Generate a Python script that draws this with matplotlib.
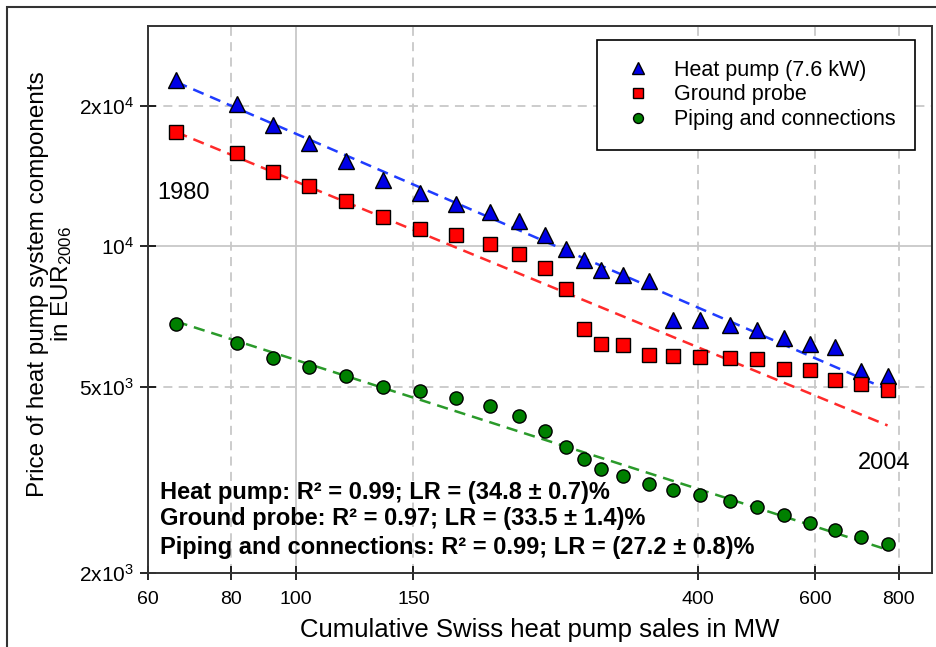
import numpy as np
import matplotlib
matplotlib.use("Agg")
import matplotlib.pyplot as plt
from matplotlib.patches import Rectangle

plt.rcParams['font.family'] = ['Liberation Sans', 'DejaVu Sans']
plt.rcParams['mathtext.fontset'] = 'custom'
plt.rcParams['mathtext.rm'] = 'Liberation Sans'
plt.rcParams['mathtext.it'] = 'Liberation Sans:italic'
plt.rcParams['mathtext.bf'] = 'Liberation Sans:bold'

# cumulative sales (MW), 1980 ... 2004
sales = [66.2, 81.6, 92.4, 104.7, 118.7, 135.2, 153.4, 173.5, 195.4, 216.2,
         235.9, 254.0, 269.8, 286.9, 309.6, 338.7, 367.5, 403.8, 447.5, 490.7,
         538.2, 589.7, 643.0, 703.3, 770.3]

heat_pump = [22680, 20140, 18160, 16640, 15210, 13840, 13000, 12300, 11820, 11330,
             10580, 9890, 9360, 8906, 8667, 8415, 6961, 6944, 6775, 6610,
             6364, 6185, 6089, 5407, 5267]
ground_probe = [17570, 15840, 14430, 13440, 12500, 11550, 10910, 10560, 10130, 9647,
                8972, 8100, 6665, 6189, 6137, 5862, 5822, 5794, 5776, 5748,
                5471, 5426, 5164, 5063, 4932]
piping = [6831, 6208, 5776, 5514, 5267, 4996, 4892, 4733, 4550, 4329,
          4022, 3716, 3510, 3342, 3233, 3104, 3013, 2930, 2849, 2766,
          2655, 2556, 2474, 2393, 2309]

series_names = ["Heat pump (7.6 kW)", "Ground probe", "Piping and connections"]
stat_names = ["Heat pump", "Ground probe", "Piping and connections"]
r2 = [0.99, 0.97, 0.99]
lr = [34.8, 33.5, 27.2]       # learning rate in %
lr_err = [0.7, 1.4, 0.8]
fit_start = [22450, 17540, 6900]  # fitted value at first point

x_ticks = [60, 80, 100, 150, 400, 600, 800]
y_ticks = [2000, 5000, 10000, 20000]
y_labels = [r'2x10$^{3}$', r'5x10$^{3}$', r'10$^{4}$', r'2x10$^{4}$']

fig = plt.figure(figsize=(9.36, 6.47), dpi=100)
ax = fig.add_axes([148/936, 1-573/647, (932-148)/936, (573-26)/647])
ax.set_xscale('log')
ax.set_yscale('log')
ax.set_xlim(60, 898)
ax.set_ylim(2000, 29600)

# grid: solid at the decades, dashed elsewhere
for xv in x_ticks[1:]:
    ax.axvline(xv, color='#c8c8c8', lw=1.3, zorder=0,
               ls='-' if xv == 100 else (0, (5, 3.5)))
for yv in y_ticks[1:]:
    ax.axhline(yv, color='#c8c8c8', lw=1.3, zorder=0,
               ls='-' if yv == 10000 else (0, (5, 3.5)))

series = [heat_pump, ground_probe, piping]
markers = ['^', 's', 'o']
msizes = [11.5, 9.5, 9.5]
mcolors = ['#0000e6', '#ff0000', '#008000']
lcolors = ['#1f3cff', '#ff2a2a', '#2a9a2a']

x = np.array(sales)
for vals, mk, ms, mc, lc, name, rate, y0 in zip(series, markers, msizes, mcolors,
                                                lcolors, series_names, lr, fit_start):
    b = np.log2(1 - rate / 100)
    xf = np.array([x[0], x[-1]])
    ax.plot(xf, y0 * (xf / x[0]) ** b, color=lc, lw=1.8, ls=(0, (4.5, 2.8)), zorder=2)
    ax.plot(x, vals, ls='none', marker=mk, ms=ms, mfc=mc, mec='black', mew=1.0,
            label=name, zorder=3)

ax.set_xticks(x_ticks)
ax.set_xticklabels([str(v) for v in x_ticks])
ax.set_yticks(y_ticks)
ax.set_yticklabels(y_labels)
ax.minorticks_off()
ax.tick_params(axis='x', labelsize=14, direction='inout', length=10, width=1.2, pad=8)
ax.tick_params(axis='y', labelsize=15, direction='inout', length=12, width=1.2, pad=4)
for sp in ax.spines.values():
    sp.set_linewidth(1.4)
    sp.set_color('#333333')

ax.set_xlabel("Cumulative Swiss heat pump sales in MW", fontsize=18.5, labelpad=7)
ax.set_ylabel("Price of heat pump system components\nin EUR$_{2006}$", fontsize=17.5,
              linespacing=1.0)
ax.yaxis.set_label_coords(-0.094, 0.529)

ax.text(0.045, 0.695, "1980", transform=ax.transAxes, fontsize=17, ha='center', va='center')
ax.text(0.939, 0.201, "2004", transform=ax.transAxes, fontsize=17, ha='center', va='center')

ys = [0.148, 0.099, 0.046]
for name, r, rate, err, yy in zip(stat_names, r2, lr, lr_err, ys):
    ax.text(0.015, yy, f"{name}: R\u00b2 = {r:.2f}; LR = ({rate:.1f} \u00b1 {err:.1f})%",
            transform=ax.transAxes, fontsize=17, fontweight='bold', ha='left', va='center')

leg = ax.legend(loc='upper right', bbox_to_anchor=(0.978, 0.974), borderaxespad=0,
                fontsize=15.5, frameon=True, fancybox=False, edgecolor='black',
                framealpha=1, markerscale=0.75, handletextpad=0.65, labelspacing=0.18,
                borderpad=0.9)
leg.get_frame().set_linewidth(1.2)

fig.patches.append(Rectangle((7/936, -0.05), 1.2, 1.05 - 7/647, transform=fig.transFigure,
                             fill=False, edgecolor='#333333', lw=1.5))

fig.savefig("out.png", dpi=100)
